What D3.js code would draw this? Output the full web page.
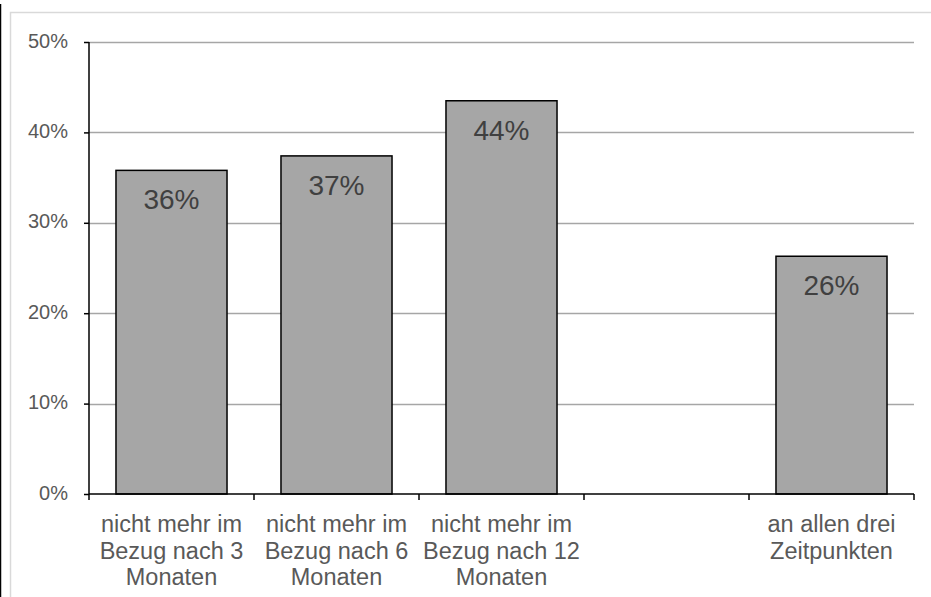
<!DOCTYPE html>
<html>
<head>
<meta charset="utf-8">
<script src="https://cdn.jsdelivr.net/npm/d3@7"></script>
<style>
  html, body { margin: 0; padding: 0; background: #fff; }
  svg { display: block; font-family: "Liberation Sans", Arial, sans-serif; }
</style>
</head>
<body>
<svg id="chart" width="931" height="597"></svg>
<script>
// Share of people no longer receiving benefits at each follow-up point
const categories = [
  ["nicht mehr im", "Bezug nach 3", "Monaten"],
  ["nicht mehr im", "Bezug nach 6", "Monaten"],
  ["nicht mehr im", "Bezug nach 12", "Monaten"],
  [],
  ["an allen drei", "Zeitpunkten"]
];
const values = [0.358, 0.374, 0.435, null, 0.263];
const valueLabels = ["36%", "37%", "44%", null, "26%"];
const yTicks = [0, 0.1, 0.2, 0.3, 0.4, 0.5];

const svg = d3.select("#chart");
const W = 931, H = 597;
const plot = { left: 89, right: 914, top: 42, bottom: 494 };

// Chart frame
svg.append("line")
  .attr("x1", 0.5).attr("x2", 0.5).attr("y1", 4).attr("y2", H)
  .attr("stroke", "#000").attr("stroke-width", 1.5);
svg.append("rect")
  .attr("x", 10.5).attr("y", 12.5)
  .attr("width", W + 10).attr("height", H + 10)
  .attr("fill", "none").attr("stroke", "#d9d9d9").attr("stroke-width", 1.5);

const idx = d3.range(categories.length);
const x = d3.scaleBand().domain(idx).range([plot.left, plot.right]).padding(0);
const y = d3.scaleLinear().domain([0, 0.5]).range([plot.bottom, plot.top]);

// Horizontal gridlines
svg.append("g")
  .selectAll("line")
  .data(yTicks.filter(t => t > 0))
  .join("line")
  .attr("x1", plot.left).attr("x2", plot.right)
  .attr("y1", d => Math.round(y(d)) + 0.5).attr("y2", d => Math.round(y(d)) + 0.5)
  .attr("stroke", "#a6a6a6").attr("stroke-width", 1.5);

// Bars
const barFrac = 0.673;
const bw = x.bandwidth() * barFrac;
const bars = idx.filter(i => values[i] != null);
svg.append("g")
  .selectAll("rect")
  .data(bars)
  .join("rect")
  .attr("x", i => x(i) + (x.bandwidth() - bw) / 2)
  .attr("y", i => y(values[i]))
  .attr("width", bw)
  .attr("height", i => y(0) - y(values[i]))
  .attr("fill", "#a6a6a6")
  .attr("stroke", "#000").attr("stroke-width", 1.5);

// Value labels inside bars
svg.append("g")
  .selectAll("text")
  .data(bars)
  .join("text")
  .attr("x", i => x(i) + x.bandwidth() / 2)
  .attr("y", i => y(values[i]) + 39)
  .attr("text-anchor", "middle")
  .attr("font-size", 28)
  .attr("fill", "#404040")
  .text(i => valueLabels[i]);

// Y axis
const yAxis = d3.axisLeft(y)
  .tickValues(yTicks)
  .tickSize(5)
  .tickPadding(16)
  .tickFormat(d3.format(".0%"));
const gy = svg.append("g")
  .attr("transform", `translate(${plot.left},0)`)
  .call(yAxis);
gy.select(".domain").attr("stroke", "#000").attr("stroke-width", 1.5)
  .attr("d", `M0,${plot.top}V${plot.bottom}`);
gy.selectAll(".tick line").attr("stroke", "#000").attr("stroke-width", 1.5);
gy.selectAll(".tick text")
  .attr("font-size", 20)
  .attr("font-family", "Liberation Sans, Arial, sans-serif")
  .attr("fill", "#595959")
  .attr("dy", "0.25em");

// X axis baseline and band-boundary ticks
const gx = svg.append("g");
gx.append("line")
  .attr("x1", plot.left).attr("x2", plot.right)
  .attr("y1", y(0)).attr("y2", y(0))
  .attr("stroke", "#000").attr("stroke-width", 1.5);
const bounds = idx.map(i => x(i)).concat([x(idx[idx.length - 1]) + x.bandwidth()]);
gx.selectAll("line.tk")
  .data(bounds)
  .join("line")
  .attr("class", "tk")
  .attr("x1", d => d).attr("x2", d => d)
  .attr("y1", y(0)).attr("y2", y(0) + 6)
  .attr("stroke", "#000").attr("stroke-width", 1.5);

// Category labels
const cat = svg.append("g")
  .selectAll("text")
  .data(idx)
  .join("text")
  .attr("x", i => x(i) + x.bandwidth() / 2)
  .attr("y", 532)
  .attr("text-anchor", "middle")
  .attr("font-size", 23.5)
  .attr("fill", "#595959");
cat.selectAll("tspan")
  .data(i => categories[i].map((t, k) => ({ t, k })))
  .join("tspan")
  .attr("x", function () { return d3.select(this.parentNode).attr("x"); })
  .attr("y", d => 532 + d.k * 26.7)
  .text(d => d.t);
</script>
</body>
</html>
